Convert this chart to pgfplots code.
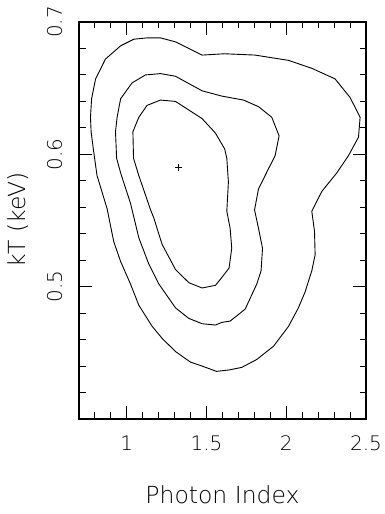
\documentclass[border=0pt]{standalone}
\usepackage{fontspec}
\setmainfont{DejaVu Sans ExtraLight}
\usepackage{pgfplots}
\pgfplotsset{compat=1.18}
\begin{document}
\begin{tikzpicture}
\path[use as bounding box] (-79bp,-95bp) rectangle (306bp,419bp);
\begin{axis}[
  at={(0,0)}, anchor=south west,
  scale only axis, width=287bp, height=397bp,
  xmin=0.7, xmax=2.5, ymin=0.4, ymax=0.7,
  xtick={1,1.5,2,2.5},
  minor xtick={0.8,0.9,1.1,1.2,1.3,1.4,1.6,1.7,1.8,1.9,2.1,2.2,2.3,2.4},
  ytick={0.5,0.6,0.7},
  minor ytick={0.42,0.44,0.46,0.48,0.52,0.54,0.56,0.58,0.62,0.64,0.66,0.68},
  tick align=inside,
  major tick length=13bp, minor tick length=6.5bp,
  every tick/.style={black, line width=1bp},
  axis line style={black, line width=1.2bp},
  /pgf/number format/assume math mode=true,
  xticklabel style={font=\fontsize{20bp}{24bp}\selectfont, anchor=base, inner sep=0pt},
  xticklabel shift=31bp,
  yticklabel style={font=\fontsize{20bp}{24bp}\selectfont, rotate=90, anchor=base, inner sep=0pt},
  yticklabel shift=17bp,
  xlabel={Photon Index},
  ylabel={kT (keV)},
  xlabel style={font=\fontsize{23.5bp}{28bp}\selectfont, at={(axis description cs:0.5,-0.2128)}, anchor=base, inner sep=0pt},
  ylabel style={font=\fontsize{23.5bp}{28bp}\selectfont, at={(axis description cs:-0.188,0.501)}, rotate=0, anchor=base, inner sep=0pt},
]
% outer contour
\addplot[black, line width=0.9bp] coordinates {
(0.791,0.603) (0.776,0.617) (0.772,0.628) (0.779,0.642) (0.804,0.657) (0.866,0.672)
(0.961,0.682) (1.044,0.687) (1.127,0.688) (1.211,0.688) (1.305,0.685)
(1.472,0.675) (1.614,0.676) (1.804,0.675) (2.014,0.671) (2.160,0.665)
(2.306,0.657) (2.400,0.643) (2.463,0.628) (2.453,0.613) (2.390,0.599)
(2.317,0.586) (2.223,0.572) (2.160,0.557) (2.177,0.542) (2.181,0.524)
(2.160,0.512) (2.118,0.496) (2.076,0.484) (2.014,0.470) (1.920,0.455)
(1.815,0.445) (1.721,0.439) (1.638,0.437) (1.562,0.436) (1.472,0.440)
(1.399,0.443) (1.305,0.451) (1.221,0.461) (1.159,0.470) (1.075,0.486)
(1.023,0.502) (0.961,0.519) (0.918,0.534) (0.876,0.559) (0.813,0.584)
(0.791,0.603)
};
% middle contour
\addplot[black, line width=0.9bp] coordinates {
(0.936,0.597) (0.929,0.617) (0.939,0.628) (0.961,0.642) (1.033,0.654)
(1.117,0.660) (1.211,0.661) (1.305,0.659) (1.472,0.648) (1.596,0.644)
(1.732,0.641) (1.826,0.636) (1.909,0.628) (1.955,0.614) (1.930,0.599)
(1.888,0.589) (1.826,0.574) (1.801,0.558) (1.826,0.544) (1.851,0.529)
(1.842,0.512) (1.815,0.502) (1.742,0.483) (1.648,0.474) (1.596,0.473)
(1.556,0.471) (1.472,0.472) (1.389,0.476) (1.305,0.484) (1.201,0.502)
(1.138,0.517) (1.075,0.537) (1.023,0.563) (0.961,0.586) (0.936,0.597)
};
% inner contour
\addplot[black, line width=0.9bp] coordinates {
(1.042,0.597) (1.038,0.617) (1.075,0.628) (1.127,0.637) (1.211,0.641)
(1.305,0.640) (1.472,0.627) (1.556,0.616) (1.614,0.604) (1.627,0.597)
(1.637,0.579) (1.627,0.557) (1.648,0.544) (1.658,0.529) (1.641,0.514)
(1.596,0.507) (1.556,0.501) (1.472,0.499) (1.389,0.503) (1.305,0.513)
(1.221,0.532) (1.169,0.552) (1.149,0.558) (1.075,0.584) (1.042,0.597)
};
% best fit
\addplot[black, only marks, mark=+, mark size=3.5bp, line width=0.8bp] coordinates {(1.322,0.590)};
\end{axis}
\end{tikzpicture}
\end{document}
